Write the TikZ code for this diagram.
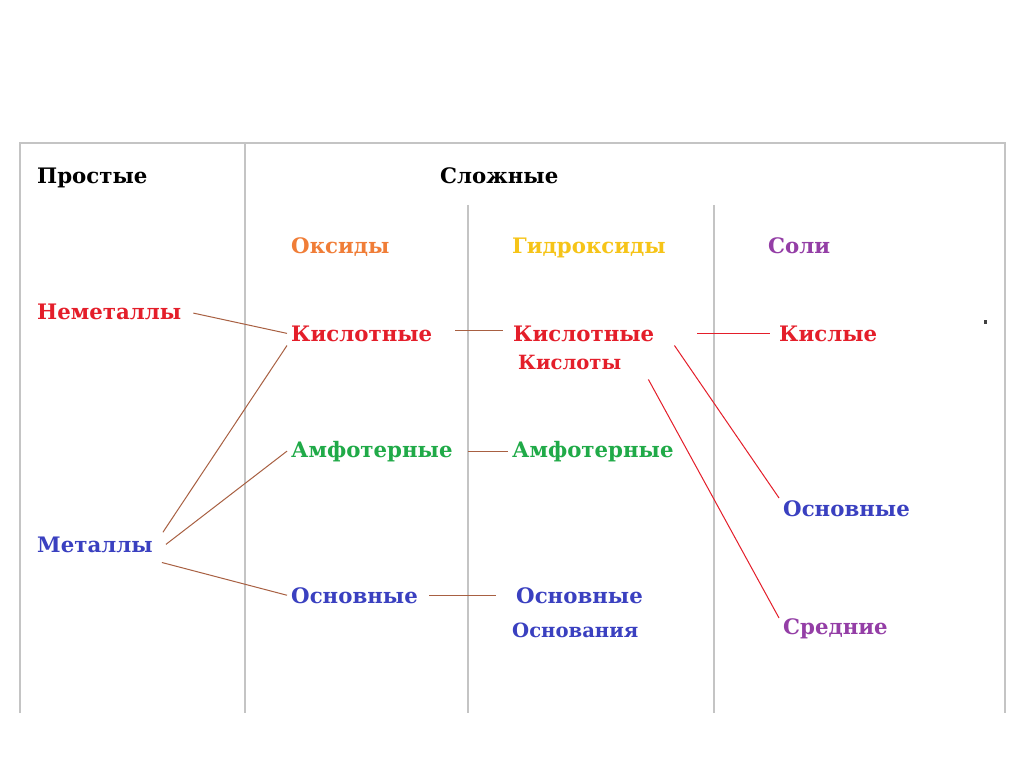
\documentclass[tikz,border=0pt]{standalone}
\usepackage{fontspec}
\setmainfont{DejaVu Serif}
\usetikzlibrary{positioning}

\definecolor{oxorange}{RGB}{240,125,55}
\definecolor{hydyellow}{RGB}{246,196,24}
\definecolor{saltpurple}{RGB}{148,62,166}
\definecolor{acidred}{RGB}{228,30,42}
\definecolor{amphgreen}{RGB}{32,170,72}
\definecolor{baseblue}{RGB}{58,64,192}
\definecolor{linkbrown}{RGB}{168,96,66}
\definecolor{framegray}{RGB}{196,196,196}

\tikzset{
  word/.style={anchor=base west, inner sep=4pt, font=\fontsize{21.3}{25}\selectfont\bfseries},
  subword/.style={word, font=\fontsize{19.6}{23}\selectfont\bfseries},
  frame/.style={framegray, line width=2pt},
  link/.style={linkbrown, line width=1pt},
  redlink/.style={acidred, line width=1pt}
}

\begin{document}
\begin{tikzpicture}[x=1pt, y=-1pt]
    \useasboundingbox (0,0) rectangle (1024,767);
    \fill[white] (0,0) rectangle (1024,767);

    % Table frame
    \draw [frame] (20,713) -- (20,143) -- (1005,143) -- (1005,713);
    \draw [frame] (245,143) -- (245,713);
    \draw [frame] (468,205) -- (468,713);
    \draw [frame] (714,205) -- (714,713);
    \fill [darkgray] (984,320) rectangle (987,324);

    % Headings
    \node [word] (simple) at (33,184) {Простые};
    \node [word] (complex) at (436,184) {Сложные};
    \node [word, text=oxorange] (oxides) at (287,253) {Оксиды};
    \node [word, text=hydyellow] (hydrox) at (508,253) {Гидроксиды};
    \node [word, text=saltpurple] (salts) at (764,253) {Соли};

    % Simple substances
    \node [word, text=acidred] (nonmet) at (33,319) {Неметаллы};
    \node [word, text=baseblue] (metals) at (33,552) {Металлы};

    % Oxides
    \node [word, text=acidred] (acidox) at (287,341) {Кислотные};
    \node [word, text=amphgreen] (amphox) at (287,457) {Амфотерные};
    \node [word, text=baseblue] (basox) at (287,603) {Основные};

    % Hydroxides
    \node [word, text=acidred] (acidhyd) at (509,341) {Кислотные};
    \node [subword, text=acidred] (acids) at (514,369) {Кислоты};
    \node [word, text=amphgreen] (amphhyd) at (508,457) {Амфотерные};
    \node [word, text=baseblue] (bashyd) at (512,603) {Основные};
    \node [subword, text=baseblue] (bases) at (508,637) {Основания};

    % Salts
    \node [word, text=acidred] (acidsalt) at (775,341) {Кислые};
    \node [word, text=baseblue] (basesalt) at (779,516) {Основные};
    \node [word, text=saltpurple] (midsalt) at (779,634) {Средние};

    % Links
    \draw [link, shorten <=8pt] (nonmet.east) -- (acidox.west);
    \draw [link] ([xshift=6pt]metals.north east) -- (acidox.south west);
    \draw [link] ([xshift=9pt]metals.east) -- (amphox.west);
    \draw [link] ([xshift=5pt,yshift=-6pt]metals.south east) -- (basox.west);
    \draw [link, shorten <=19pt, shorten >=6pt] ([yshift=3pt]acidox.east) -- ([yshift=3pt]acidhyd.west);
    \draw [link, shorten <=11pt] (amphox.east) -- (amphhyd.west);
    \draw [link, shorten <=7pt, shorten >=16pt] (basox.east) -- (bashyd.west);
    \draw [redlink, shorten <=39pt, shorten >=5pt] (acidhyd.east) -- (acidsalt.west);
    \draw [redlink] ([xshift=16pt]acidhyd.south east) -- ([yshift=-2pt]basesalt.north west);
    \draw [redlink] ([xshift=23pt,yshift=-6pt]acids.south east) -- ([yshift=-4pt]midsalt.north west);
\end{tikzpicture}
\end{document}
